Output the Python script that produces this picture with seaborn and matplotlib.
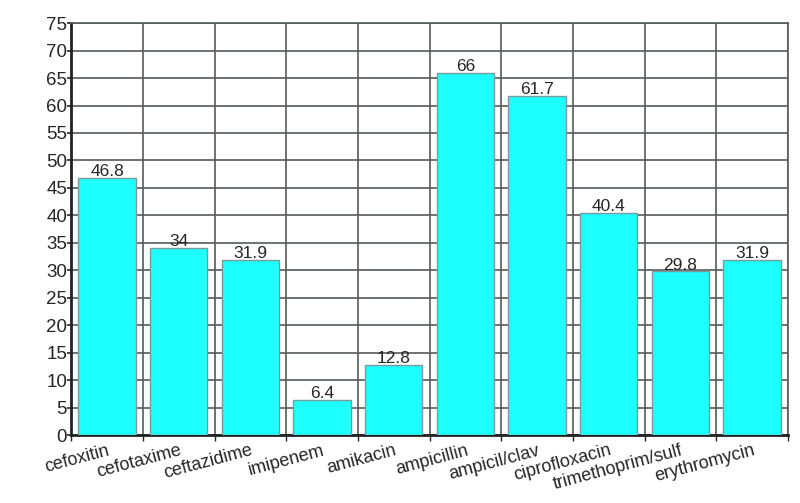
import numpy as np
import pandas as pd
import matplotlib
matplotlib.use("Agg")
import matplotlib.pyplot as plt
import seaborn as sns

drugs = ["cefoxitin", "cefotaxime", "ceftazidime", "imipenem", "amikacin",
         "ampicillin", "ampicil/clav", "ciprofloxacin", "trimethoprim/sulf",
         "erythromycin"]
resist = [46.8, 34, 31.9, 6.4, 12.8, 66, 61.7, 40.4, 29.8, 31.9]
bar_labels = ["46.8", "34", "31.9", "6.4", "12.8", "66", "61.7", "40.4", "29.8", "31.9"]

sns.set_style("white")
plt.rcParams["font.family"] = ["Liberation Sans", "DejaVu Sans"]

df = pd.DataFrame({"drug": drugs, "value": resist})

fig = plt.figure(figsize=(8, 5.03), dpi=100)
ax = fig.add_axes([0.089, 0.135, 0.896, 0.819])

sns.barplot(data=df, x="drug", y="value", color="#1effff", saturation=1,
            width=0.8, edgecolor="#7a9a9a", linewidth=1.0, ax=ax, zorder=3)

for p, lab in zip(ax.patches, bar_labels):
    ax.text(p.get_x() + p.get_width() / 2, p.get_height() - 0.2, lab,
            ha="center", va="bottom", fontsize=12.5, zorder=4)

ax.set_ylim(0, 75)
ax.set_xlim(-0.5, len(drugs) - 0.5)
ax.set_yticks(np.arange(0, 76, 5))
ax.set_xticks(np.arange(-0.5, len(drugs), 1), minor=True)
ax.grid(True, axis="y", which="major", color="#555a5a", linewidth=1.2, zorder=0)
ax.grid(True, axis="x", which="minor", color="#555a5a", linewidth=1.2, zorder=0)
ax.grid(False, axis="x", which="major")
ax.set_axisbelow(True)

ax.tick_params(axis="y", which="major", direction="out", length=3, width=1.2,
               labelsize=13.5, pad=0, left=True)
ax.tick_params(axis="x", which="major", length=0, labelsize=13, pad=5)
ax.tick_params(axis="x", which="minor", direction="out", length=4, width=1, bottom=True)
ax.set_xticklabels(drugs, rotation=15, ha="right", rotation_mode="anchor")

for s in ["top", "right"]:
    ax.spines[s].set_color("#555a5a")
    ax.spines[s].set_linewidth(1.2)
for s in ["left", "bottom"]:
    ax.spines[s].set_color("#222222")
    ax.spines[s].set_linewidth(2)

ax.set_xlabel("")
ax.set_ylabel("")

fig.savefig("out.png", dpi=100)
